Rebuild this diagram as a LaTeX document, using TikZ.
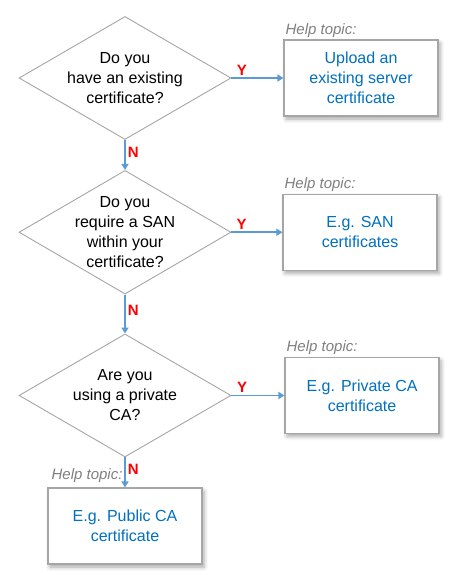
\documentclass[tikz,border=0pt]{standalone}
\usepackage{fontspec}
\setmainfont{Liberation Sans}
\usetikzlibrary{positioning,arrows.meta,shapes.geometric,shadows.blur}
\definecolor{flowblue}{HTML}{5B9BD5}
\definecolor{topicblue}{HTML}{0070C0}
\definecolor{framegray}{HTML}{A6A6A6}
\definecolor{helpgray}{HTML}{7F7F7F}

\begin{document}
\begin{tikzpicture}[
			x=1pt,y=1pt,
			node distance=30pt,
			question/.style={
				draw=framegray,
				line width=0.9pt,
				fill=white,
				shape=diamond,
				minimum width=212pt,
				minimum height=123pt,
				inner sep=-12pt,
				align=center,
				font=\fontsize{16}{20}\selectfont
			},
			topic/.style={
				draw=framegray,
				line width=1.2pt,
				fill=white,
				minimum width=154pt,
				minimum height=76pt,
				align=center,
				text=topicblue,
				font=\fontsize{16}{20}\selectfont,
				blur shadow={shadow xshift=2pt,shadow yshift=-3pt,shadow blur radius=4pt,shadow opacity=35}
			},
			help/.style={font=\itshape\fontsize{15}{18}\selectfont,text=helpgray,inner sep=1pt},
			arrow/.style={-{Triangle[length=6pt,width=7pt]},draw=flowblue,line width=1.5pt},
			answer/.style={font=\bfseries\fontsize{15}{15}\selectfont,text=red,inner sep=2pt}
			]
			
			\useasboundingbox (0,0) rectangle (450,-575);
			
			\node[question] (q1) at (125,-78) {Do you\\ have an existing\\ certificate?};
			\node[question,below=of q1] (q2) {Do you\\ require a SAN\\ within your\\ certificate?};
			\node[question,below=39pt of q2] (q3) {Are you\\ using a private\\ CA?};
			\node[topic,below=30pt of q3] (public) {E.g. Public CA\\ certificate};
			
			\node[topic,right=52pt of q1] (upload) {Upload an\\ existing server\\ certificate};
			\node[topic,right=51pt of q2] (san) {E.g. SAN\\ certificates};
			\node[topic,right=53pt of q3] (private) {E.g. Private CA\\ certificate};
			
			\node[help,above right=1pt and 1pt of upload.north west] (help1) {Help topic:};
			\node[help,above right=1pt and 1pt of san.north west] (help2) {Help topic:};
			\node[help,above right=1pt and 1pt of private.north west] (help3) {Help topic:};
			\node[help,above right=4pt and 3pt of public.north west] (help4) {Help topic:};
			
			\draw[arrow] (q1)--node[answer,pos=0.2,above] {Y} (upload);
			\draw[arrow] (q2)--node[answer,pos=0.2,above] {Y} (san);
			\draw[arrow] (q3)--node[answer,pos=0.2,above] {Y} (private);
			
			\draw[arrow] (q1)--node[answer,pos=0.4,right] {N} (q2);
			\draw[arrow] (q2)--node[answer,pos=0.4,right] {N} (q3);
			\draw[arrow] (q3)--node[answer,pos=0.4,right] {N} (public);
			
		\end{tikzpicture}
\end{document}
